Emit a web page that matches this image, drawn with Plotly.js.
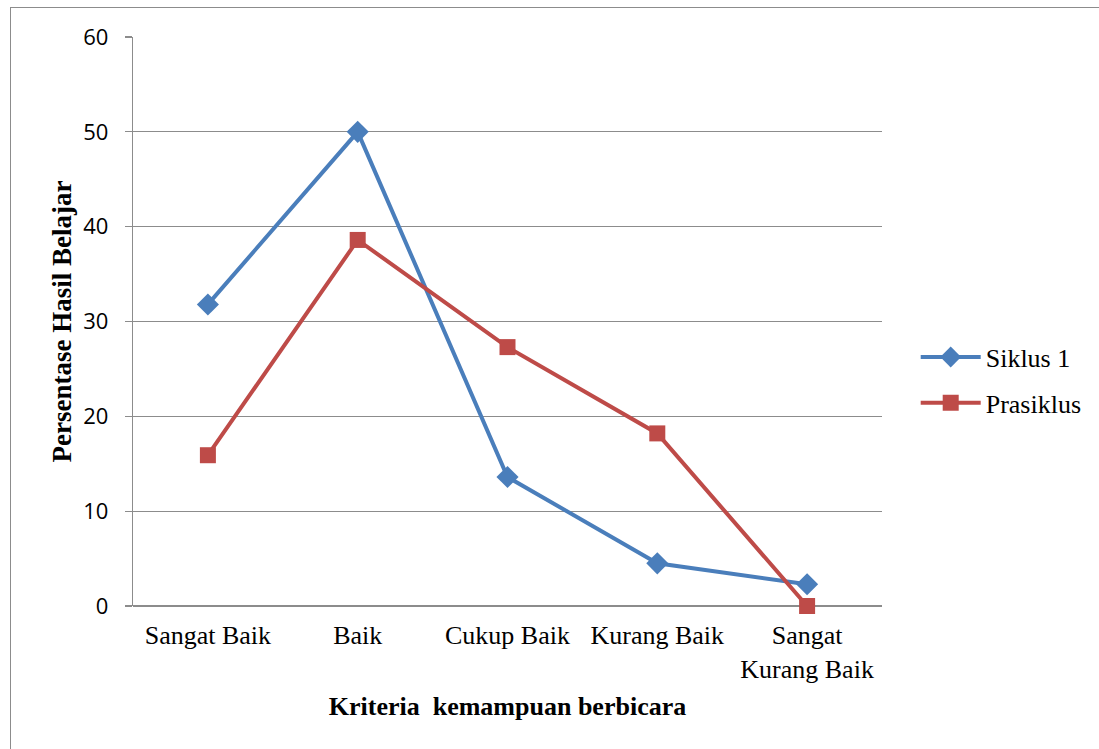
<!DOCTYPE html>
<html>
<head>
<meta charset="utf-8">
<script src="https://cdn.plot.ly/plotly-3.0.1.min.js"></script>
<style>
html,body{margin:0;padding:0;background:#fff;overflow:hidden;}
#frame{position:absolute;left:10px;top:7px;width:1200px;height:800px;border:1.5px solid #8c8c8c;box-sizing:border-box;}
#chart{position:absolute;left:0;top:0;width:1099px;height:749px;}
</style>
</head>
<body>
<div id="frame"></div>
<div id="chart"></div>
<script>
var categories = ["Sangat Baik", "Baik", "Cukup Baik", "Kurang Baik", "Sangat<br>Kurang Baik"];
var siklus1 = [31.8, 50, 13.6, 4.5, 2.3];
var prasiklus = [15.9, 38.6, 27.3, 18.2, 0];
var yTicks = [0, 10, 20, 30, 40, 50, 60];

var serif = "Liberation Serif, Times New Roman, serif";

var traces = [
  {
    x: categories, y: siklus1, name: "Siklus 1", type: "scatter", mode: "lines+markers",
    legendgroup: "a", cliponaxis: false,
    line: {color: "#4A7EBB", width: 4},
    marker: {symbol: "diamond", size: 17, color: "#4A7EBB"}
  },
  {
    x: categories, y: prasiklus, name: "Prasiklus", type: "scatter", mode: "lines+markers",
    legendgroup: "b", cliponaxis: false,
    line: {color: "#BE4B48", width: 4},
    marker: {symbol: "square", size: 16, color: "#BE4B48"}
  }
];

var layout = {
  width: 1099, height: 749,
  paper_bgcolor: "rgba(0,0,0,0)", plot_bgcolor: "rgba(0,0,0,0)",
  margin: {l: 133, r: 217, t: 37, b: 143},
  showlegend: true,
  legend: {
    x: 1.045, y: 0.397, xanchor: "left", yanchor: "middle",
    font: {family: serif, size: 26, color: "#000"},
    traceorder: "grouped", tracegroupgap: 9, itemwidth: 60
  },
  xaxis: {
    type: "category",
    range: [-0.5, 4.5],
    showgrid: false, zeroline: false,
    showline: false,
    ticks: "",
    ticklabelstandoff: 11,
    tickfont: {family: serif, size: 26, color: "#000"},
    title: {text: "<b>Kriteria  kemampuan berbicara</b>", font: {family: serif, size: 26, color: "#000"}, standoff: 14}
  },
  yaxis: {
    range: [0, 60], tickvals: yTicks, ticktext: yTicks.map(String),
    showgrid: true, gridcolor: "#8c8c8c", gridwidth: 1.2,
    zeroline: true, zerolinecolor: "#8c8c8c", zerolinewidth: 1.5,
    showline: true, linecolor: "#8c8c8c", linewidth: 1.2,
    ticks: "outside", ticklen: 7, tickcolor: "#8c8c8c", tickwidth: 1.2,
    ticklabelstandoff: 12,
    tickfont: {family: "Open Sans, Liberation Sans, sans-serif", size: 22, color: "#000"},
    title: {text: "<b>Persentase Hasil Belajar</b>", font: {family: serif, size: 27, color: "#000"}, standoff: 3}
  },
  shapes: [
    {type: "line", xref: "paper", yref: "y", x0: -0.0095, x1: 1, y0: 0, y1: 0, line: {color: "#8c8c8c", width: 1.5}, layer: "below"}
  ]
};

Plotly.newPlot("chart", traces, layout, {displayModeBar: false, staticPlot: true});
</script>
</body>
</html>
